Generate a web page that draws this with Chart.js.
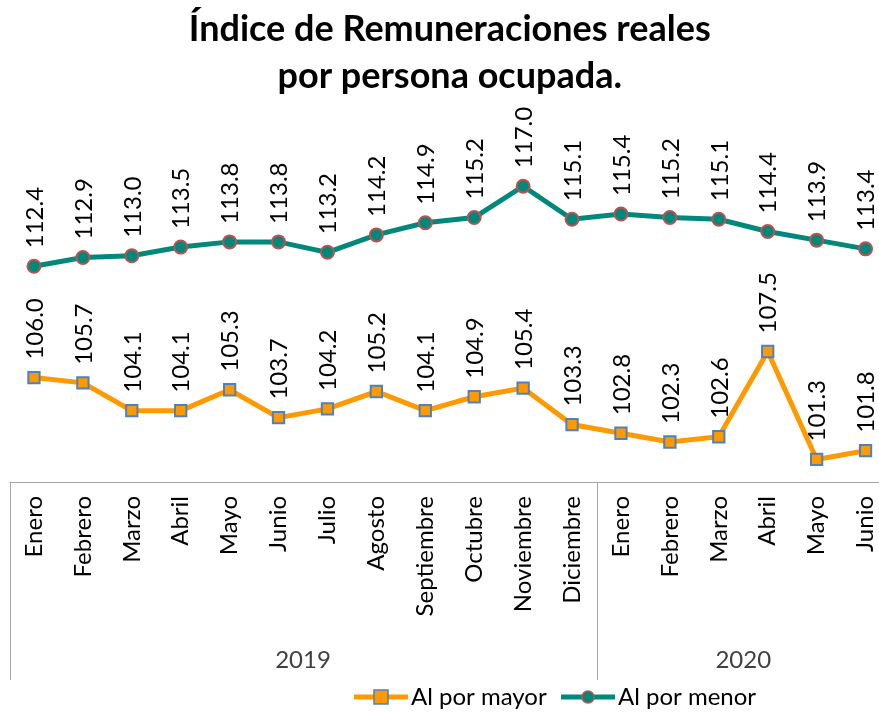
<!DOCTYPE html>
<html>
<head>
<meta charset="utf-8">
<script src="https://cdn.jsdelivr.net/npm/chart.js@4.4.0/dist/chart.umd.min.js"></script>
<style>
  html, body { margin: 0; padding: 0; background: #fff; overflow: hidden; }
  #linechart { display: block; }
</style>
</head>
<body>
<canvas id="linechart" width="892" height="713"></canvas>
<script>
const months = ["Enero", "Febrero", "Marzo", "Abril", "Mayo", "Junio", "Julio", "Agosto",
  "Septiembre", "Octubre", "Noviembre", "Diciembre",
  "Enero", "Febrero", "Marzo", "Abril", "Mayo", "Junio"];
const years = [{ label: "2019", from: 0, to: 11 }, { label: "2020", from: 12, to: 17 }];
const porMayor = [106.0, 105.7, 104.1, 104.1, 105.3, 103.7, 104.2, 105.2, 104.1, 104.9, 105.4, 103.3,
  102.8, 102.3, 102.6, 107.5, 101.3, 101.8];
const porMenor = [112.4, 112.9, 113.0, 113.5, 113.8, 113.8, 113.2, 114.2, 114.9, 115.2, 117.0, 115.1,
  115.4, 115.2, 115.1, 114.4, 113.9, 113.4];

const FONT = "Lato";
const axisGray = "#a6a6a6";

// value labels, rotated like the axis labels
const valueLabels = {
  id: "valueLabels",
  afterDatasetsDraw(chart) {
    const ctx = chart.ctx;
    ctx.save();
    ctx.font = "24px " + FONT;
    ctx.fillStyle = "#000";
    ctx.textAlign = "left";
    ctx.textBaseline = "middle";
    chart.data.datasets.forEach((ds, i) => {
      chart.getDatasetMeta(i).data.forEach((pt, j) => {
        ctx.save();
        ctx.translate(pt.x + 1, pt.y - 18);
        ctx.rotate(-Math.PI / 2);
        ctx.fillText(ds.data[j].toFixed(1), 0, 0);
        ctx.restore();
      });
    });
    ctx.restore();
  }
};

// year row, separators and legend under the axis
const yearAxis = {
  id: "yearAxis",
  afterDraw(chart) {
    const ctx = chart.ctx;
    const x = chart.scales.x;
    const area = chart.chartArea;
    const step = (x.right - x.left) / months.length;
    const bottom = area.bottom + 198;
    ctx.save();
    ctx.strokeStyle = axisGray;
    ctx.lineWidth = 1;
    ctx.beginPath();
    ctx.moveTo(x.left, area.bottom + 0.5);
    ctx.lineTo(x.right, area.bottom + 0.5);
    ctx.stroke();
    ctx.font = "24px " + FONT;
    ctx.fillStyle = "#404040";
    ctx.textAlign = "center";
    ctx.textBaseline = "middle";
    years.forEach(y => {
      const l = x.left + y.from * step;
      const r = x.left + (y.to + 1) * step;
      [l, r].forEach(px => {
        ctx.beginPath();
        ctx.moveTo(Math.round(px) + 0.5, area.bottom);
        ctx.lineTo(Math.round(px) + 0.5, bottom);
        ctx.stroke();
      });
      ctx.fillText(y.label, (l + r) / 2, area.bottom + 178);
    });

    // legend
    const ly = 697;
    const items = [
      { ds: chart.data.datasets[0], x: 354 },
      { ds: chart.data.datasets[1], x: 561 }
    ];
    ctx.textAlign = "left";
    items.forEach(it => {
      ctx.strokeStyle = it.ds.borderColor;
      ctx.lineWidth = 5;
      ctx.beginPath();
      ctx.moveTo(it.x, ly);
      ctx.lineTo(it.x + 54, ly);
      ctx.stroke();
      ctx.fillStyle = it.ds.pointBackgroundColor;
      ctx.strokeStyle = it.ds.pointBorderColor;
      ctx.lineWidth = 1.5;
      if (it.ds.pointStyle === "rect") {
        ctx.fillRect(it.x + 20, ly - 7, 14, 14);
        ctx.strokeRect(it.x + 20, ly - 7, 14, 14);
      } else {
        ctx.beginPath();
        ctx.arc(it.x + 27, ly, 6, 0, Math.PI * 2);
        ctx.fill();
        ctx.stroke();
      }
      ctx.fillStyle = "#000";
      ctx.fillText(it.ds.label, it.x + 57, ly);
    });
    ctx.restore();
  }
};

new Chart(document.getElementById("linechart"), {
  type: "line",
  data: {
    labels: months,
    datasets: [
      {
        label: "Al por mayor",
        data: porMayor,
        borderColor: "#ff9900",
        borderWidth: 5,
        pointStyle: "rect",
        pointRadius: 8,
        pointBackgroundColor: "#ff9900",
        pointBorderColor: "#4f81bd",
        pointBorderWidth: 2,
        tension: 0
      },
      {
        label: "Al por menor",
        data: porMenor,
        borderColor: "#00897b",
        borderWidth: 5,
        pointStyle: "circle",
        pointRadius: 6.5,
        pointBackgroundColor: "#00897b",
        pointBorderColor: "#c0504d",
        pointBorderWidth: 2,
        tension: 0
      }
    ]
  },
  options: {
    responsive: false,
    animation: false,
    layout: { autoPadding: false, padding: { left: 9.5, right: 2, top: 0, bottom: 0 } },
    plugins: {
      legend: { display: false },
      tooltip: { enabled: false },
      title: {
        display: true,
        text: ["Índice de Remuneraciones reales", "por persona ocupada."],
        color: "#000",
        font: { family: FONT, size: 36, weight: "bold", lineHeight: 1.3 },
        padding: { top: 6, bottom: 34.4 }
      }
    },
    scales: {
      x: {
        offset: true,
        grid: { display: false, drawTicks: false },
        border: { display: false },
        ticks: {
          minRotation: 90,
          maxRotation: 90,
          autoSkip: false,
          padding: 14,
          color: "#000",
          font: { family: FONT, size: 24 }
        },
        afterFit(scale) {
          scale.height = 231;
          scale.paddingLeft = 0;
          scale.paddingRight = 0;
        }
      },
      y: {
        display: false,
        min: 100,
        max: 120
      }
    }
  },
  plugins: [valueLabels, yearAxis]
});
</script>
</body>
</html>
